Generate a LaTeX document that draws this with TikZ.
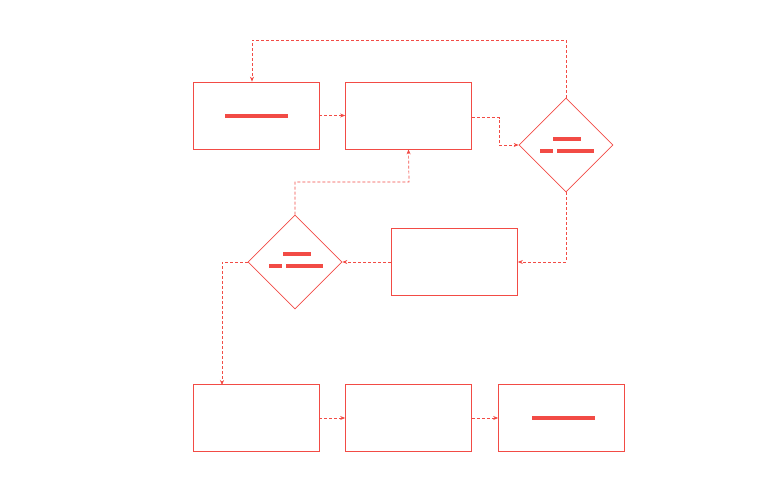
\documentclass[tikz,border=0pt]{standalone}
\usetikzlibrary{shapes.geometric,arrows.meta}
\definecolor{rd}{HTML}{F24B45}
\tikzset{
  box/.style={draw=rd,line width=0.7pt,minimum width=126pt,minimum height=67pt,inner sep=0pt},
  dia/.style={draw=rd,line width=0.7pt,diamond,minimum width=94pt,minimum height=94pt,inner sep=0pt},
  conn/.style={draw=rd,line width=0.7pt,dashed,dash pattern=on 3pt off 2pt,-{Stealth[length=5pt,width=4pt]}},
  bar/.style={draw=rd,line width=4pt}
}
\begin{document}
\begin{tikzpicture}[x=1pt,y=-1pt]
\useasboundingbox (0,0) rectangle (783,487);
\node[box] (A) at (256,115.5) {};
\node[box] (B) at (408.5,115.5) {};
\node[dia] (D1) at (566,145) {};
\node[box] (C) at (454.5,262) {};
\node[dia] (D2) at (295,262) {};
\node[box] (E) at (256,418) {};
\node[box] (F) at (408.5,418) {};
\node[box] (G) at (561.5,418) {};
\draw[bar] (225,116) -- (288,116);
\draw[bar] (553,139) -- (581,139);
\draw[bar] (540,151) -- (553,151);
\draw[bar] (557,151) -- (594,151);
\draw[bar] (283,254) -- (311,254);
\draw[bar] (269,266) -- (282,266);
\draw[bar] (286,266) -- (323,266);
\draw[bar] (532,418) -- (595,418);
\coordinate (a1) at (252,40);
\coordinate (a2) at (566,40);
\draw[conn] (A.east) -- (B.west);
\draw[conn] ([yshift=-2pt]B.east) -- (499,117.5) -- (499,145) -- (D1.west);
\draw[conn] (D1.north) -- (a2) -- (a1) -- (A.north -| a1);
\draw[conn] (D1.south) -- (566,262) -- (C.east);
\draw[conn] (C.west) -- (D2.east);
\draw[conn] (D2.north) -- (295,182) -- (409,182) -- (B.south);
\draw[conn] (D2.west) -- (222,262) -- (222,385);
\draw[conn] (E.east) -- (F.west);
\draw[conn] (F.east) -- (G.west);
\end{tikzpicture}
\end{document}
